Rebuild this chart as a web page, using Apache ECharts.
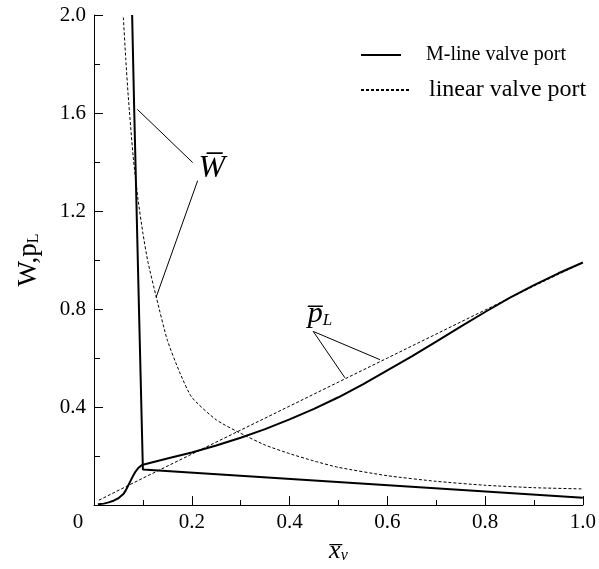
<!DOCTYPE html>
<html>
<head>
<meta charset="utf-8">
<script src="https://cdn.jsdelivr.net/npm/echarts@6/dist/echarts.min.js"></script>
<style>
  html, body { margin: 0; padding: 0; background: #fff; }
  #chart { width: 599px; height: 569px; }
</style>
</head>
<body>
<div id="chart"></div>
<script>
// Dimensionless load W and load pressure p_L against valve opening x_v
const xTicks = [0, 0.2, 0.4, 0.6, 0.8, 1.0];
const yTicks = [0, 0.4, 0.8, 1.2, 1.6, 2.0];

// M-line valve port
const wMline = [[0.078, 2.0], [0.0824, 1.6], [0.092, 0.8], [0.1, 0.145], [1.0, 0.03]];
const pMline = [
  [0.008, 0.003], [0.02, 0.006], [0.03, 0.011], [0.04, 0.018], [0.05, 0.028],
  [0.06, 0.045], [0.065, 0.06], [0.07, 0.08], [0.075, 0.1], [0.08, 0.12],
  [0.085, 0.137], [0.09, 0.15], [0.095, 0.159], [0.1, 0.165],
  [0.15, 0.19], [0.2, 0.215], [0.25, 0.243], [0.3, 0.275], [0.35, 0.31],
  [0.4, 0.35], [0.45, 0.393], [0.5, 0.44], [0.55, 0.493], [0.6, 0.55],
  [0.65, 0.607], [0.7, 0.667], [0.75, 0.728], [0.8, 0.788], [0.85, 0.846],
  [0.9, 0.898], [0.95, 0.946], [1.0, 0.99]
];

// linear valve port
const wLinear = [
  [0.06, 1.99], [0.065, 1.82], [0.07, 1.67], [0.08, 1.425], [0.09, 1.248],
  [0.1, 1.11], [0.11, 0.995], [0.128, 0.844], [0.15, 0.673], [0.175, 0.543],
  [0.2, 0.44], [0.25, 0.348], [0.3, 0.293], [0.35, 0.245], [0.4, 0.21],
  [0.45, 0.18], [0.5, 0.154], [0.6, 0.12], [0.7, 0.097], [0.8, 0.081],
  [0.9, 0.071], [1.0, 0.066]
];
const pLinear = [
  [0.01, 0.02], [0.1, 0.11], [0.2, 0.208], [0.3, 0.306], [0.4, 0.404],
  [0.5, 0.502], [0.6, 0.6], [0.7, 0.698], [0.8, 0.796], [0.9, 0.894], [1.0, 0.99]
];

// leader lines from the curve labels
const wLeaders = [[[0.0886, 1.615], [0.2018, 1.398]], [[0.212, 1.324], [0.127, 0.848]]];
const pLeaders = [[[0.4485, 0.7087], [0.5849, 0.5935]], [[0.4485, 0.7087], [0.5133, 0.5193]]];
const wLabelAt = [0.241, 1.375];
const pLabelAt = [0.462, 0.779];

const FONT = "'Liberation Serif', 'Times New Roman', serif";
const chart = echarts.init(document.getElementById('chart'));

const legendBase = {
  orient: 'vertical',
  left: 355,
  itemHeight: 12,
  selectedMode: false,
  itemStyle: { opacity: 0 }
};

chart.setOption({
  animation: false,
  backgroundColor: '#fff',
  textStyle: { fontFamily: FONT, color: '#000' },
  grid: { left: 94, right: 16, top: 15, bottom: 61, containLabel: false },
  legend: [
    Object.assign({}, legendBase, {
      top: 40,
      itemWidth: 40,
      data: ['M-line valve port'],
      textStyle: { fontFamily: FONT, fontSize: 20, color: '#000', padding: [0, 0, 0, 20] }
    }),
    Object.assign({}, legendBase, {
      top: 73,
      itemWidth: 48,
      data: ['linear valve port'],
      textStyle: { fontFamily: FONT, fontSize: 24, color: '#000', padding: [0, 0, 0, 15] }
    })
  ],
  xAxis: {
    type: 'value',
    min: 0, max: 1, interval: 0.2,
    name: '{x|x\u0305}{v|v}',
    nameLocation: 'middle',
    nameGap: 30,
    nameTextStyle: {
      fontFamily: FONT,
      rich: {
        x: { fontFamily: FONT, fontStyle: 'italic', fontSize: 26, color: '#000' },
        v: { fontFamily: FONT, fontStyle: 'italic', fontSize: 16, color: '#000', verticalAlign: 'bottom' }
      }
    },
    axisLine: { lineStyle: { color: '#000', width: 1 } },
    axisTick: { inside: true, length: 9, lineStyle: { color: '#000' } },
    minorTick: { show: true, splitNumber: 2, length: 5, lineStyle: { color: '#000' } },
    splitLine: { show: false },
    axisLabel: {
      margin: 7,
      fontFamily: FONT, fontSize: 21, color: '#000',
      formatter: v => v === 0 ? '{z|0}' : '{n|' + v.toFixed(1) + '}',
      rich: {
        z: { fontFamily: FONT, fontSize: 21, color: '#000', padding: [0, 32, 0, 0] },
        n: { fontFamily: FONT, fontSize: 21, color: '#000' }
      }
    }
  },
  yAxis: {
    type: 'value',
    min: 0, max: 2, interval: 0.4,
    name: '{a|W,p}{b|L}',
    nameLocation: 'middle',
    nameGap: 52,
    nameRotate: 90,
    nameTextStyle: {
      fontFamily: FONT,
      rich: {
        a: { fontFamily: FONT, fontSize: 27, color: '#000' },
        b: { fontFamily: FONT, fontSize: 16, color: '#000', verticalAlign: 'bottom' }
      }
    },
    axisLine: { show: true, lineStyle: { color: '#000', width: 1 } },
    axisTick: { show: true, inside: true, length: 9, lineStyle: { color: '#000' } },
    minorTick: { show: true, splitNumber: 2, length: 6, lineStyle: { color: '#000' } },
    splitLine: { show: false },
    axisLabel: {
      margin: 8,
      fontFamily: FONT, fontSize: 21, color: '#000',
      formatter: v => v === 0 ? '' : '{n|' + v.toFixed(1) + '}',
      rich: { n: { fontFamily: FONT, fontSize: 21, color: '#000' } }
    }
  },
  series: [
    {
      name: 'linear valve port', type: 'line', data: wLinear, symbol: 'none', smooth: 0.2, z: 2,
      lineStyle: { color: '#000', width: 1, type: [3, 2] }, itemStyle: { color: '#000' }
    },
    {
      name: 'linear valve port', type: 'line', data: pLinear, symbol: 'none', z: 2,
      lineStyle: { color: '#000', width: 1, type: [3, 2] }, itemStyle: { color: '#000' }
    },
    {
      name: 'M-line valve port', type: 'line', data: wMline, symbol: 'none', z: 3,
      lineStyle: { color: '#000', width: 2 }, itemStyle: { color: '#000' }
    },
    {
      name: 'M-line valve port', type: 'line', data: pMline, symbol: 'none', z: 3,
      lineStyle: { color: '#000', width: 2 }, itemStyle: { color: '#000' }
    },
    {
      name: 'labels', type: 'line', data: [], symbol: 'none', z: 4,
      markLine: {
        silent: true, symbol: 'none', animation: false,
        label: { show: false },
        lineStyle: { color: '#000', width: 1, type: 'solid' },
        data: wLeaders.concat(pLeaders).map(seg => [{ coord: seg[0] }, { coord: seg[1] }])
      },
      markPoint: {
        silent: true, symbol: 'circle', symbolSize: 0, animation: false,
        data: [
          {
            coord: wLabelAt,
            label: {
              show: true, position: 'inside', formatter: '{w|W\u0305}',
              rich: { w: { fontFamily: FONT, fontStyle: 'italic', fontSize: 32, color: '#000' } }
            }
          },
          {
            coord: pLabelAt,
            label: {
              show: true, position: 'inside', formatter: '{p|p\u0305}{s|L}',
              rich: {
                p: { fontFamily: FONT, fontStyle: 'italic', fontSize: 30, color: '#000' },
                s: { fontFamily: FONT, fontStyle: 'italic', fontSize: 17, color: '#000', verticalAlign: 'bottom' }
              }
            }
          }
        ]
      }
    }
  ]
});
</script>
</body>
</html>
